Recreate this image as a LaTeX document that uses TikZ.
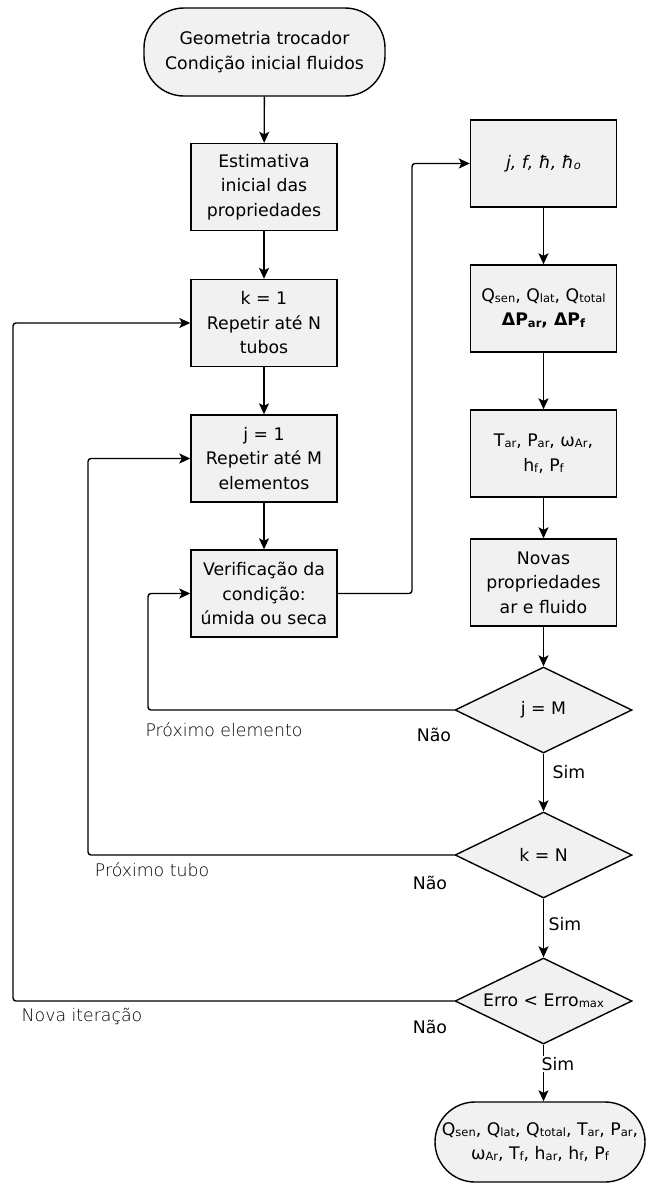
\documentclass[tikz,border=0pt]{standalone}
\usepackage{fontspec}
\setmainfont{DejaVu Sans}
\newfontfamily\lightfont{DejaVu Sans ExtraLight}
\usetikzlibrary{shapes.geometric,arrows.meta}
\definecolor{boxfill}{RGB}{241,241,241}
\newcommand\sbx[1]{\raisebox{-1.2pt}{\fontsize{11.5}{11.5}\selectfont #1}}
\begin{document}
\begin{tikzpicture}[x=1pt,y=-1pt,
  every node/.style={font=\fontsize{17.3}{24.5}\selectfont},
  proc/.style={draw, line width=1.4pt, fill=boxfill, minimum width=146pt, minimum height=87pt, inner sep=2pt, align=center},
  term/.style={draw, line width=1.4pt, fill=boxfill, rounded corners=40pt, align=center, inner sep=0pt},
  dec/.style={diamond, draw, line width=1.4pt, fill=boxfill, aspect=2.06, minimum width=177pt, minimum height=86pt, inner sep=0pt, align=center},
  conn/.style={line width=1.4pt, -{Stealth[length=11pt,width=10pt,inset=2.5pt]}, rounded corners=3pt},
  lab/.style={inner sep=1pt},
  lightlab/.style={inner sep=1pt, font=\lightfont\fontsize{17.3}{24}\selectfont}]
\useasboundingbox (0,0) rectangle (646,1187);
\fill[white] (0,0) rectangle (646,1187);

% left column
\node[term, minimum width=241pt, minimum height=88pt] (start) at (264.5,52) {Geometria trocador\\Condição inicial fluidos};
\node[proc] (est) at (264,187) {Estimativa\\inicial das\\propriedades};
\node[proc] (k1) at (264,323) {k = 1\\Repetir até N\\tubos};
\node[proc] (j1) at (264,458.5) {j = 1\\Repetir até M\\elementos};
\node[proc] (ver) at (264,593.5) {Verificação da\\condição:\\úmida ou seca};

% right column
\node[proc] (jf) at (543.5,163.5) {\itshape j, f, ħ, ħ\sbx{o}};
\node[proc] (q) at (543.5,308.5) {Q\sbx{sen}, Q\sbx{lat}, Q\sbx{total}\\\bfseries ΔP\sbx{ar}, ΔP\sbx{f}};
\node[proc] (t) at (543.5,453.5) {T\sbx{ar}, P\sbx{ar}, ω\sbx{Ar},\\h\sbx{f}, P\sbx{f}};
\node[proc] (nov) at (543.5,582.5) {Novas\\propriedades\\ar e fluido};
\node[dec] (dm) at (543.5,710) {j = M};
\node[dec] (dn) at (543.5,855) {k = N};
\node[dec] (de) at (543.5,1001) {Erro < Erro\sbx{max}};
\node[term, minimum width=210pt, minimum height=80pt] (fim) at (540,1142) {Q\sbx{sen}, Q\sbx{lat}, Q\sbx{total}, T\sbx{ar}, P\sbx{ar},\\ω\sbx{Ar}, T\sbx{f}, h\sbx{ar}, h\sbx{f}, P\sbx{f}};

% straight connectors
\draw[conn] (start) -- (est);
\draw[conn] (est) -- (k1);
\draw[conn] (k1) -- (j1);
\draw[conn] (j1) -- (ver);
\draw[conn] (jf) -- (q);
\draw[conn] (q) -- (t);
\draw[conn] (t) -- (nov);
\draw[conn] (nov) -- (dm);
\draw[conn] (dm) -- (dn);
\draw[conn] (dn) -- (de);
\draw[conn] (de.south) -- (de.south |- fim.north);

% cross-over from verification to right column
\coordinate (a1) at (412,593.5);
\coordinate (a2) at (412,163.5);
\draw[conn] (ver.east) -- (a1) -- (a2) -- (jf.west);

% loops
\coordinate (b1) at (148,710);
\coordinate (b2) at (148,593.5);
\draw[conn] (dm.west) -- (b1) -- (b2) -- (ver.west);
\coordinate (c1) at (88,855);
\coordinate (c2) at (88,458.5);
\draw[conn] (dn.west) -- (c1) -- (c2) -- (j1.west);
\coordinate (d1) at (13,1001);
\coordinate (d2) at (13,323);
\draw[conn] (de.west) -- (d1) -- (d2) -- (k1.west);

% labels
\node[lab] (s1) at (569,772) {Sim};
\node[lab] (s2) at (565,924) {Sim};
\node[lab, fill=white] (s3) at (558,1064) {Sim};
\node[lab] (n1) at (434,735) {Não};
\node[lab] (n2) at (430,883) {Não};
\node[lab] (n3) at (430,1027) {Não};
\node[lightlab] (p1) at (224,730) {Próximo elemento};
\node[lightlab] (p2) at (152,870) {Próximo tubo};
\node[lightlab] (p3) at (82,1016) {Nova iteração};
\end{tikzpicture}
\end{document}
